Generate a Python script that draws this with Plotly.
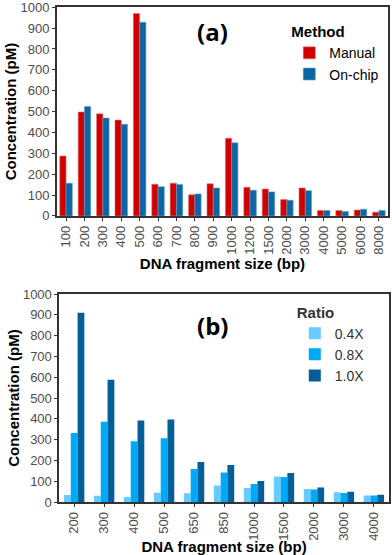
import plotly.graph_objects as go
from plotly.subplots import make_subplots

# Panel (a): manual vs on-chip size selection
sizes_a = ['100', '200', '300', '400', '500', '600', '700', '800', '900', '1000',
           '1200', '1500', '2000', '3000', '4000', '5000', '6000', '8000']
manual = [287, 498, 489, 459, 970, 152, 157, 101, 154, 372,
          137, 129, 78, 134, 26, 26, 28, 18]
onchip = [157, 524, 469, 439, 928, 140, 151, 105, 134, 350,
          123, 115, 75, 121, 26, 21, 32, 26]

# Panel (b): bead ratio
sizes_b = ['200', '300', '400', '500', '650', '850', '1000', '1500', '2000', '3000', '4000']
r04 = [34, 30, 24, 45, 42, 79, 67, 123, 63, 47, 31]
r08 = [332, 386, 292, 307, 159, 142, 86, 120, 60, 43, 31]
r10 = [910, 588, 392, 397, 193, 178, 101, 139, 70, 49, 35]

FONT = 'Liberation Sans, Arial, sans-serif'
TICK_GREY = '#4d4d4d'

fig = make_subplots(rows=2, cols=1)

fig.add_trace(go.Bar(x=sizes_a, y=manual, name='Manual', marker_color='#d00000',
                     marker_line=dict(color='#e87070', width=0.6), legend='legend'), row=1, col=1)
fig.add_trace(go.Bar(x=sizes_a, y=onchip, name='On-chip', marker_color='#0d66a3',
                     marker_line=dict(color='#5e9cc8', width=0.6), legend='legend'), row=1, col=1)

fig.add_trace(go.Bar(x=sizes_b, y=r04, name='0.4X', marker_color='#66ccff',
                     marker_line_width=0, legend='legend2'), row=2, col=1)
fig.add_trace(go.Bar(x=sizes_b, y=r08, name='0.8X', marker_color='#00a8f8',
                     marker_line_width=0, legend='legend2'), row=2, col=1)
fig.add_trace(go.Bar(x=sizes_b, y=r10, name='1.0X', marker_color='#045e98',
                     marker_line_width=0, legend='legend2'), row=2, col=1)

axis_common = dict(showline=True, mirror=True, linecolor='#333333', linewidth=1.5,
                   showgrid=False, zeroline=False, ticks='outside', ticklen=3,
                   tickcolor='#333333', tickfont=dict(family=FONT, size=13, color=TICK_GREY),
                   automargin=False, ticklabeloverflow='allow')

fig.update_xaxes(**axis_common, tickangle=-90,
                 title=dict(text='<b>DNA fragment size (bp)</b>', standoff=1,
                            font=dict(family=FONT, size=15, color='black')))
fig.update_yaxes(**axis_common, range=[0, 1000], dtick=100,
                 title=dict(text='<b>Concentration (pM)</b>', standoff=0,
                            font=dict(family=FONT, size=15, color='black')))

fig.update_layout(
    width=392, height=555,
    margin=dict(l=0, r=0, t=0, b=0),
    paper_bgcolor='white', plot_bgcolor='white',
    barmode='group', bargap=0.32, bargroupgap=0,
    font=dict(family=FONT, color='black'),
    xaxis=dict(domain=[0.145, 0.990]),
    yaxis=dict(domain=[0.611, 0.987]),
    xaxis2=dict(domain=[0.151, 0.992]),
    yaxis2=dict(domain=[0.0955, 0.470]),
    legend=dict(title=dict(text='<b>Method</b>', font=dict(size=15)),
                x=0.738, y=0.968, xanchor='left', yanchor='top',
                font=dict(family=FONT, size=14), bgcolor='rgba(0,0,0,0)',
                itemwidth=30, tracegroupgap=0),
    legend2=dict(title=dict(text='<b>Ratio</b>', font=dict(size=15)),
                 x=0.752, y=0.463, xanchor='left', yanchor='top',
                 font=dict(family=FONT, size=14, color='#333333'), bgcolor='rgba(0,0,0,0)',
                 itemwidth=30, tracegroupgap=0),
    annotations=[
        dict(text='<b>(a)</b>', x=0.471, y=0.886, xref='x domain', yref='y domain',
             xanchor='center', yanchor='middle',
             showarrow=False, font=dict(family='Open Sans, sans-serif', size=24)),
        dict(text='<b>(b)</b>', x=0.464, y=0.851, xref='x2 domain', yref='y2 domain',
             xanchor='center', yanchor='middle',
             showarrow=False, font=dict(family='Open Sans, sans-serif', size=24)),
    ],
)

fig.write_html('out.html', config={'displayModeBar': False},
               post_script="document.body.style.margin='0';")
